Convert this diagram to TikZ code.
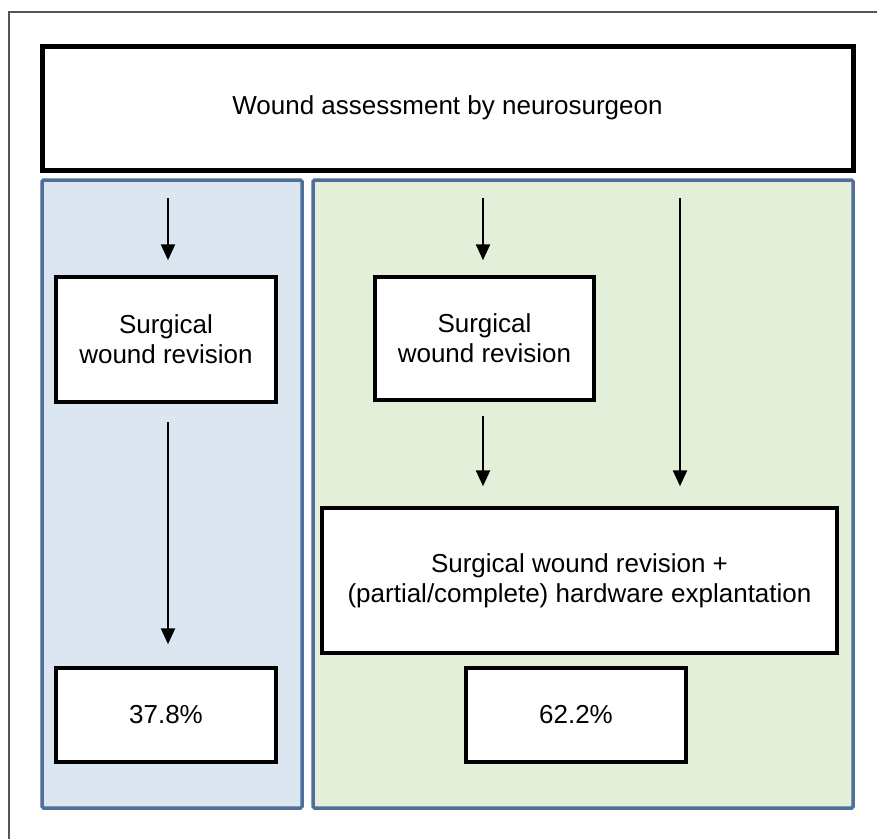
\documentclass[tikz,border=0pt]{standalone}
\usepackage{fontspec}
\setmainfont{Liberation Sans}
\usetikzlibrary{arrows.meta}
\definecolor{panelblue}{HTML}{DCE6F1}
\definecolor{panelgreen}{HTML}{E3EFD9}
\definecolor{paneledge}{HTML}{4F6E99}
\definecolor{framegray}{HTML}{555555}
\tikzset{
  txt/.style={font=\fontsize{26}{30}\selectfont, align=center},
  panel/.style={draw=paneledge, line width=3.5pt, rounded corners=1.5pt, inner sep=0pt},
  whitebox/.style={draw=black, fill=white, line width=3.5pt, inner sep=0pt, txt},
  flow/.style={-{Triangle[width=14pt,length=16pt]}, line width=2.5pt, black}
}
\begin{document}
\begin{tikzpicture}[x=1pt,y=1pt]
\useasboundingbox (0,0) rectangle (877,-839);
\fill[white] (0,0) rectangle (877,-839);
% outer frame (cropped)
\draw[framegray, line width=1.5pt] (9,-839) -- (9,-12) -- (877,-12);
% panels
\node[panel, fill=panelblue, minimum width=260pt, minimum height=628pt] (lp) at (172,-494) {};
\node[panel, fill=panelgreen, minimum width=540pt, minimum height=628pt] (rp) at (583,-494) {};
% top box
\node[whitebox, line width=5pt, minimum width=811pt, minimum height=124pt] (top) at (447.5,-108) {Wound assessment by neurosurgeon};
% left column
\node[whitebox, minimum width=220pt, minimum height=125pt] (lrev) at (166,-339.5) {Surgical\\wound revision};
\node[whitebox, minimum width=220pt, minimum height=94pt] (lpct) at (166,-715) {37.8\%};
% right column
\node[whitebox, minimum width=219pt, minimum height=123pt] (rrev) at (484.5,-338.5) {Surgical\\wound revision};
\node[whitebox, minimum width=515pt, minimum height=145pt] (big) at (579.5,-580.5) {Surgical wound revision +\\(partial/complete) hardware explantation};
\node[whitebox, minimum width=220pt, minimum height=94pt] (rpct) at (576,-715) {62.2\%};
% arrow start points
\coordinate (a1) at (168,-198);
\coordinate (a2) at (168,-422);
\coordinate (a3) at (483,-198);
\coordinate (a4) at (483,-416);
\coordinate (a5) at (680,-198);
\draw[flow, shorten >=15pt] (a1) -- (a1 |- lrev.north);
\draw[flow, shorten >=22pt] (a2) -- (a2 |- lpct.north);
\draw[flow, shorten >=15pt] (a3) -- (a3 |- rrev.north);
\draw[flow, shorten >=20pt] (a4) -- (a4 |- big.north);
\draw[flow, shorten >=20pt] (a5) -- (a5 |- big.north);
\end{tikzpicture}
\end{document}
